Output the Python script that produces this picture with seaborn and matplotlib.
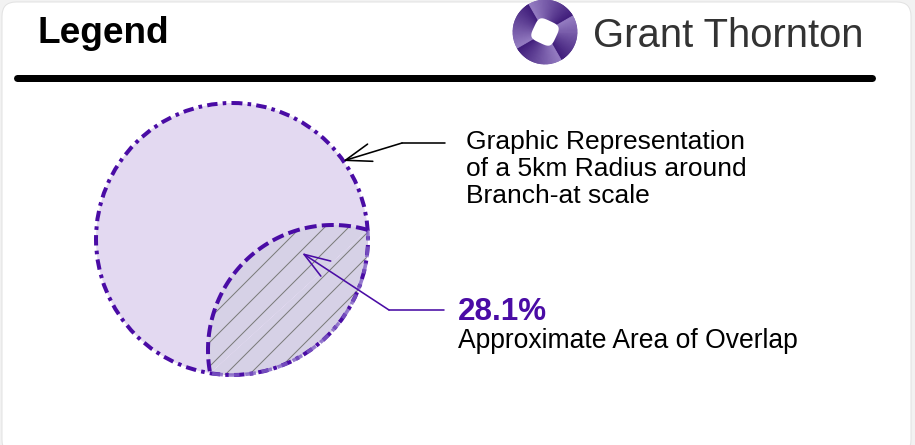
import numpy as np
import matplotlib
matplotlib.use("Agg")
import matplotlib.pyplot as plt
import seaborn as sns
from matplotlib.patches import Circle, PathPatch, FancyBboxPatch, Wedge, Polygon
from matplotlib.path import Path
from matplotlib.colors import to_rgb

# ---------------- data ----------------
title_text = "Legend"
brand_text = "Grant Thornton"
radius_label_lines = ["Graphic Representation", "of a 5km Radius around", "Branch-at scale"]
overlap_pct = 28.1
overlap_caption = "Approximate Area of Overlap"

# ---------------- style ----------------
sns.set_theme(style="white")
plt.rcParams["font.family"] = ["Liberation Sans", "DejaVu Sans"]
plt.rcParams["hatch.linewidth"] = 0.5

PURPLE = "#4a0ca5"
LIGHT_PURPLE = "#7e5cc4"
CIRCLE_FILL = "#e3d9f1"
LENS_FILL = "#d6d1e6"
HATCH_GRAY = "#7a7a7a"

DPI = 144
W, H = 915, 445
fig = plt.figure(figsize=(W / DPI, H / DPI), dpi=DPI, facecolor="#f2f2f2")
ax = fig.add_axes([0, 0, 1, 1])
ax.set_xlim(0, W)
ax.set_ylim(H, 0)
ax.set_aspect("auto")
ax.axis("off")
ax.set_facecolor("none")

# white rounded card
card = FancyBboxPatch((2, 2), 909, 452, boxstyle="round,pad=0,rounding_size=14",
                      facecolor="white", edgecolor="#e2e2e2", lw=0.5)
ax.add_patch(card)

# header
ax.text(37, 43, title_text, fontsize=18.5, fontweight="bold", color="black", va="baseline", ha="left")
ax.text(593, 47, brand_text, fontsize=20, color="#333333", va="baseline", ha="left")
ax.plot([17, 872], [78, 78], color="black", lw=3.5, solid_capstyle="round")

# logo: swirl ring
lc = (545, 32)
light = np.array(to_rgb("#957dc2"))
dark = np.array(to_rgb("#3f1c7a"))
nseg = 144
for k in range(nseg):
    th = 360.0 * k / nseg
    frac = ((th + 30) % 90) / 90.0
    col = tuple(light * (1 - frac) + dark * frac)
    ax.add_patch(Wedge(lc, 32, th, th + 360.0 / nseg + 0.8, width=22,
                       facecolor=col, edgecolor=col, lw=0.4))
t = np.linspace(0, 2 * np.pi, 100)
n = 4.0
sx = 12 * np.sign(np.cos(t)) * np.abs(np.cos(t)) ** (2 / n)
sy = 12 * np.sign(np.sin(t)) * np.abs(np.sin(t)) ** (2 / n)
rot = np.deg2rad(25)
hx = lc[0] + sx * np.cos(rot) - sy * np.sin(rot)
hy = lc[1] + sx * np.sin(rot) + sy * np.cos(rot)
ax.add_patch(Polygon(np.column_stack([hx, hy]), closed=True, color="white", lw=0))

# circles geometry
c1 = np.array([232.0, 239.0]); r1 = 136.0
c2 = np.array([333.0, 350.0]); r2 = 125.0
d = np.hypot(*(c2 - c1))
phi12 = np.arctan2(*(c2 - c1)[::-1])
phi21 = np.arctan2(*(c1 - c2)[::-1])
a1 = np.arccos((d ** 2 + r1 ** 2 - r2 ** 2) / (2 * d * r1))
a2 = np.arccos((d ** 2 + r2 ** 2 - r1 ** 2) / (2 * d * r2))

th2 = np.linspace(phi21 + a2, phi21 - a2, 120)
arc2 = np.column_stack([c2[0] + r2 * np.cos(th2), c2[1] + r2 * np.sin(th2)])
th1 = np.linspace(phi12 - a1, phi12 + a1, 120)
arc1 = np.column_stack([c1[0] + r1 * np.cos(th1), c1[1] + r1 * np.sin(th1)])

# main circle fill
ax.add_patch(Circle(c1, r1, facecolor=CIRCLE_FILL, edgecolor="none", lw=0))

# lens
lens_pts = np.vstack([arc2, arc1[::-1] if np.allclose(arc1[0], arc2[-1], atol=1) else arc1])
lens_path = Path(np.vstack([lens_pts, lens_pts[:1]]), closed=True)
ax.add_patch(PathPatch(lens_path, facecolor=LENS_FILL, edgecolor=HATCH_GRAY, hatch="//", lw=0))
ax.plot(arc1[:, 0], arc1[:, 1], color=LIGHT_PURPLE, lw=1.8, alpha=0.8,
        linestyle=(0, (3.0, 1.6)), dash_capstyle="butt")
ax.plot(arc2[:, 0], arc2[:, 1], color=PURPLE, lw=2.0,
        linestyle=(0, (3.0, 1.3)), dash_capstyle="butt")

# main circle outline
ax.add_patch(Circle(c1, r1, fill=False, edgecolor=PURPLE, lw=2.0,
                    linestyle=(0, (2.6, 1.3, 0.9, 1.3))))

# radius annotation
ax.plot([445, 402], [143, 143], color="black", lw=0.8)
ax.annotate("", xy=(343, 161), xytext=(402, 143),
            arrowprops=dict(arrowstyle="->,head_length=1.3,head_width=0.45", color="black",
                            lw=0.8, shrinkA=0, shrinkB=0, mutation_scale=10))
for i, line in enumerate(radius_label_lines):
    ax.text(466, 149 + 27 * i, line, fontsize=13.2, color="black", va="baseline", ha="left")

# overlap annotation
ax.plot([444, 389], [310, 310], color=PURPLE, lw=0.8)
ax.annotate("", xy=(302, 253), xytext=(389, 310),
            arrowprops=dict(arrowstyle="->,head_length=1.3,head_width=0.45", color=PURPLE,
                            lw=0.8, shrinkA=0, shrinkB=0, mutation_scale=10))
ax.text(458, 320, f"{overlap_pct:.1f}%", fontsize=15.7, fontweight="bold", color=PURPLE,
        va="baseline", ha="left")
ax.text(458, 348, overlap_caption, fontsize=13.25, color="black", va="baseline", ha="left")

fig.savefig("out.png", dpi=DPI, facecolor=fig.get_facecolor())
